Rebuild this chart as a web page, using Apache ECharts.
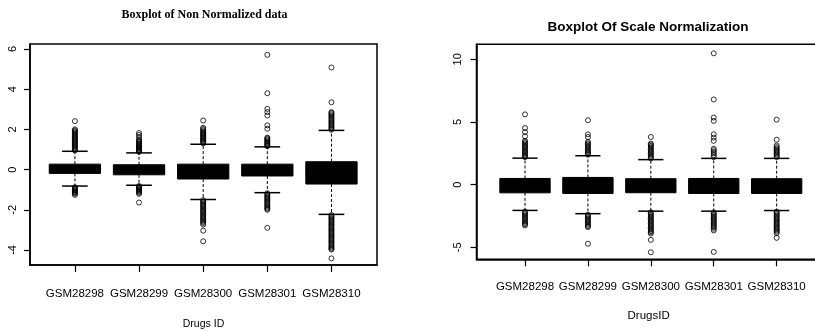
<!DOCTYPE html>
<html>
<head>
<meta charset="utf-8">
<script src="https://cdn.jsdelivr.net/npm/echarts@6/dist/echarts.min.js"></script>
<style>
  html, body { margin: 0; padding: 0; background: #fff; }
  #chart { width: 815px; height: 331px; }
</style>
</head>
<body>
<div id="chart"></div>
<script>
// Sample names shared by both panels
const categories = ['GSM28298', 'GSM28299', 'GSM28300', 'GSM28301', 'GSM28310'];

// Tick values for each panel's y axis
const rawTicks = [-4, -2, 0, 2, 4, 6];
const scaleTicks = [-5, 0, 5, 10];

// Non-normalized data: [lower whisker, Q1, median, Q3, upper whisker]
const rawStats = [
  [-0.82, -0.19, 0.02, 0.27, 0.91],
  [-0.78, -0.26, -0.02, 0.24, 0.83],
  [-1.49, -0.47, -0.08, 0.27, 1.26],
  [-1.15, -0.32, -0.02, 0.27, 1.13],
  [-2.23, -0.72, -0.17, 0.39, 1.95]
];

// Non-normalized outliers, one list per sample
const rawOutliers = [
  [0.95, 1.0, 1.05, 1.1, 1.15, 1.2, 1.25, 1.3, 1.35, 1.4, 1.45, 1.5, 1.55, 1.6, 1.65, 1.7, 1.75, 1.8, 1.85, 1.9, 1.95, 2.0, 2.41,
   -0.88, -0.92, -0.96, -1.0, -1.04, -1.08, -1.12, -1.16, -1.2, -1.26],
  [0.88, 0.92, 0.96, 1.0, 1.04, 1.08, 1.12, 1.16, 1.2, 1.25, 1.3, 1.35, 1.4, 1.45, 1.5, 1.62, 1.72, 1.82,
   -0.82, -0.86, -0.9, -0.94, -0.98, -1.02, -1.06, -1.1, -1.15, -1.21, -1.64],
  [1.3, 1.35, 1.4, 1.45, 1.5, 1.55, 1.6, 1.65, 1.7, 1.75, 1.8, 1.85, 1.9, 1.96, 2.02, 2.08, 2.44,
   -1.52, -1.58, -1.64, -1.7, -1.76, -1.82, -1.88, -1.94, -2.0, -2.06, -2.12, -2.18, -2.24, -2.3, -2.36, -2.42, -2.48, -2.54, -2.6, -2.66, -2.74, -3.04, -3.57],
  [1.16, 1.2, 1.25, 1.3, 1.35, 1.4, 1.45, 1.5, 1.55, 1.59, 2.03, 2.2, 2.69, 2.86, 3.02, 3.8, 5.71,
   -1.18, -1.24, -1.3, -1.36, -1.42, -1.48, -1.54, -1.6, -1.66, -1.72, -1.78, -1.84, -1.9, -1.95, -2.0, -2.9],
  [1.98, 2.04, 2.1, 2.16, 2.22, 2.28, 2.34, 2.4, 2.46, 2.52, 2.58, 2.64, 2.7, 2.76, 2.82, 2.86, 3.35, 5.08,
   -2.26, -2.32, -2.38, -2.44, -2.5, -2.56, -2.62, -2.68, -2.74, -2.8, -2.86, -2.92, -2.98, -3.04, -3.1, -3.16, -3.22, -3.28, -3.34, -3.4, -3.46, -3.52, -3.58, -3.64, -3.7, -3.76, -3.82, -3.88, -3.94, -3.98, -4.42]
];

// Scale-normalized data: [lower whisker, Q1, median, Q3, upper whisker]
const scaleStats = [
  [-2.05, -0.65, -0.05, 0.5, 2.12],
  [-2.31, -0.7, -0.05, 0.58, 2.31],
  [-2.11, -0.64, -0.05, 0.48, 2.0],
  [-2.11, -0.7, -0.05, 0.5, 2.1],
  [-2.06, -0.7, -0.05, 0.48, 2.1]
];

// Scale-normalized outliers, one list per sample
const scaleOutliers = [
  [2.2, 2.3, 2.4, 2.5, 2.6, 2.7, 2.8, 2.9, 3.0, 3.1, 3.2, 3.3, 3.4, 3.5, 3.86, 4.2, 4.52, 5.61,
   -2.15, -2.25, -2.35, -2.45, -2.55, -2.65, -2.75, -2.85, -2.95, -3.05, -3.15, -3.25],
  [2.4, 2.5, 2.6, 2.7, 2.8, 2.9, 3.0, 3.1, 3.2, 3.3, 3.41, 3.8, 4.02, 5.14,
   -2.4, -2.5, -2.6, -2.7, -2.8, -2.9, -3.0, -3.1, -3.2, -3.3, -3.38, -4.71],
  [2.1, 2.2, 2.3, 2.4, 2.5, 2.6, 2.7, 2.8, 2.9, 3.0, 3.1, 3.2, 3.28, 3.81,
   -2.2, -2.3, -2.4, -2.5, -2.6, -2.7, -2.8, -2.9, -3.0, -3.1, -3.2, -3.3, -3.4, -3.5, -3.6, -3.7, -3.79, -3.9, -4.4, -5.39],
  [2.2, 2.35, 2.5, 2.62, 2.75, 2.87, 3.5, 3.76, 4.02, 5.09, 5.36, 6.8, 10.48,
   -2.2, -2.3, -2.4, -2.5, -2.6, -2.7, -2.8, -2.9, -3.0, -3.1, -3.2, -3.3, -3.4, -3.52, -3.65, -5.36],
  [2.2, 2.3, 2.4, 2.5, 2.6, 2.7, 2.8, 2.9, 3.0, 3.13, 3.59, 5.19,
   -2.15, -2.25, -2.35, -2.45, -2.55, -2.65, -2.75, -2.85, -2.95, -3.05, -3.15, -3.25, -3.35, -3.45, -3.55, -3.65, -3.75, -3.87, -4.24]
];

const BOX_WIDTH = 0.8;   // in category units, as R draws it
const CAP_WIDTH = 0.4;

function boxData(stats) {
  return stats.map((s, i) => [i + 1].concat(s));
}
function outlierData(lists) {
  const out = [];
  lists.forEach((vals, i) => vals.forEach(v => out.push([i + 1, v])));
  return out;
}

// Draws one R-style box: filled box, dashed whiskers and short caps
function renderBox(params, api) {
  const x = api.value(0);
  const lo = api.coord([x, api.value(1)]);
  const q1 = api.coord([x, api.value(2)]);
  const md = api.coord([x, api.value(3)]);
  const q3 = api.coord([x, api.value(4)]);
  const hi = api.coord([x, api.value(5)]);
  const bw = api.size([BOX_WIDTH, 0])[0];
  const cw = api.size([CAP_WIDTH, 0])[0];
  const cx = q1[0];
  return {
    type: 'group',
    children: [
      { type: 'line', shape: { x1: cx, y1: q3[1], x2: cx, y2: hi[1] },
        style: { stroke: '#000', lineWidth: 1, lineDash: [3, 2] } },
      { type: 'line', shape: { x1: cx, y1: q1[1], x2: cx, y2: lo[1] },
        style: { stroke: '#000', lineWidth: 1, lineDash: [3, 2] } },
      { type: 'line', shape: { x1: cx - cw / 2, y1: hi[1], x2: cx + cw / 2, y2: hi[1] },
        style: { stroke: '#000', lineWidth: 1.5 } },
      { type: 'line', shape: { x1: cx - cw / 2, y1: lo[1], x2: cx + cw / 2, y2: lo[1] },
        style: { stroke: '#000', lineWidth: 1.5 } },
      { type: 'rect', shape: { x: cx - bw / 2, y: q3[1], width: bw, height: q1[1] - q3[1] },
        style: { fill: '#000', stroke: '#000', lineWidth: 1 } },
      { type: 'line', shape: { x1: cx - bw / 2, y1: md[1], x2: cx + bw / 2, y2: md[1] },
        style: { stroke: '#000', lineWidth: 2 } }
    ]
  };
}

const sansFont = '"Liberation Sans", Arial, sans-serif';

function xAxisFor(gridIndex, min, max, margin, nameGap, name, nameSize) {
  return {
    type: 'value', gridIndex, min, max,
    axisLine: { show: true, onZero: false, lineStyle: { color: '#000', width: 1.5 } },
    splitLine: { show: false },
    axisTick: { show: true, length: 7, customValues: [1, 2, 3, 4, 5], lineStyle: { color: '#000', width: 1.2 } },
    axisLabel: {
      customValues: [1, 2, 3, 4, 5], margin,
      formatter: v => categories[Math.round(v) - 1] || '',
      color: '#000', fontFamily: sansFont, fontSize: 11.5
    },
    name, nameLocation: 'middle', nameGap,
    nameTextStyle: { color: '#000', fontFamily: sansFont, fontSize: nameSize }
  };
}

function yAxisFor(gridIndex, min, max, ticks, margin) {
  return {
    type: 'value', gridIndex, min, max,
    axisLine: { show: true, onZero: false, lineStyle: { color: '#000', width: 1.5 } },
    splitLine: { show: false },
    axisTick: { show: true, length: 6, customValues: ticks, lineStyle: { color: '#000', width: 1.2 } },
    axisLabel: {
      customValues: ticks, rotate: 90, margin,
      color: '#000', fontFamily: sansFont, fontSize: 11
    }
  };
}

const outlierStyle = { color: 'rgba(0,0,0,0)', borderColor: '#000', borderWidth: 1 };

const chart = echarts.init(document.getElementById('chart'), null, { renderer: 'canvas' });
chart.setOption({
  backgroundColor: '#fff',
  animation: false,
  title: [
    { text: 'Boxplot of Non Normalized data', left: 204.5, top: 9, textAlign: 'center', padding: 0,
      textStyle: { fontFamily: '"Liberation Serif", "Times New Roman", serif', fontWeight: 'bold', fontSize: 12, color: '#000' } },
    { text: 'Boxplot Of Scale Normalization', left: 648, top: 20, textAlign: 'center', padding: 0,
      textStyle: { fontFamily: sansFont, fontWeight: 'bold', fontSize: 13.5, color: '#000' } }
  ],
  grid: [
    { left: 30, top: 44, width: 347, height: 221, show: true, borderColor: '#000', borderWidth: 1.5,
      backgroundColor: 'transparent', outerBoundsMode: 'none', containLabel: false },
    { left: 476.5, top: 44.3, width: 344.2, height: 215, show: true, borderColor: '#000', borderWidth: 1.5,
      backgroundColor: 'transparent', outerBoundsMode: 'none', containLabel: false }
  ],
  xAxis: [
    xAxisFor(0, 0.3, 5.71, 23, 54, 'Drugs ID', 10.5),
    xAxisFor(1, 0.229, 5.7, 22, 51, 'DrugsID', 11.5)
  ],
  yAxis: [
    yAxisFor(0, -4.75, 6.25, rawTicks, 12),
    yAxisFor(1, -5.95, 11.2, scaleTicks, 13)
  ],
  series: [
    { type: 'custom', xAxisIndex: 0, yAxisIndex: 0, renderItem: renderBox,
      encode: { x: 0, y: [1, 2, 3, 4, 5] }, data: boxData(rawStats), z: 2 },
    { type: 'scatter', xAxisIndex: 0, yAxisIndex: 0, symbol: 'circle', symbolSize: 5,
      itemStyle: outlierStyle, data: outlierData(rawOutliers), z: 3 },
    { type: 'custom', xAxisIndex: 1, yAxisIndex: 1, renderItem: renderBox,
      encode: { x: 0, y: [1, 2, 3, 4, 5] }, data: boxData(scaleStats), z: 2 },
    { type: 'scatter', xAxisIndex: 1, yAxisIndex: 1, symbol: 'circle', symbolSize: 5,
      itemStyle: outlierStyle, data: outlierData(scaleOutliers), z: 3 }
  ]
});
</script>
</body>
</html>
